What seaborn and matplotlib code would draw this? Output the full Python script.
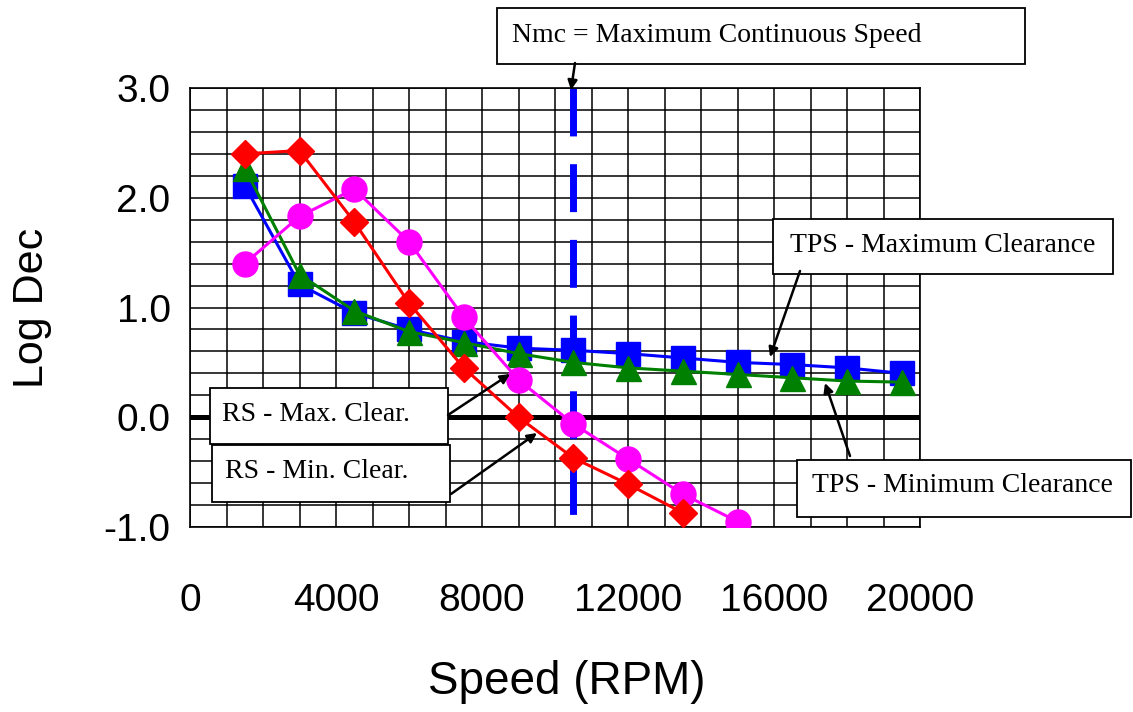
import matplotlib
matplotlib.use("Agg")
import matplotlib.pyplot as plt
from matplotlib.patches import Rectangle
from matplotlib.ticker import MultipleLocator, FormatStrFormatter
import seaborn as sns

# speeds (RPM) and log dec values
speed = [1500, 3000, 4500, 6000, 7500, 9000, 10500, 12000, 13500, 15000, 16500, 18000, 19500]
tps_max_clear = [2.11, 1.21, 0.95, 0.80, 0.69, 0.63, 0.61, 0.58, 0.54, 0.50, 0.48, 0.45, 0.40]
tps_min_clear = [2.27, 1.30, 0.97, 0.78, 0.68, 0.58, 0.50, 0.45, 0.42, 0.39, 0.36, 0.33, 0.32]
rs_max_speed = [1500, 3000, 4500, 6000, 7500, 9000, 10500, 12000, 13500, 15000]
rs_max_clear = [1.40, 1.83, 2.08, 1.60, 0.91, 0.34, -0.06, -0.38, -0.70, -0.95]
rs_min_speed = [1500, 3000, 4500, 6000, 7500, 9000, 10500, 12000, 13500]
rs_min_clear = [2.40, 2.43, 1.78, 1.04, 0.45, 0.00, -0.37, -0.61, -0.87]

nmc_speed = 10500
nmc_span = [3.0, -0.95]  # top to bottom so the dashes start at the top

x_ticks = [0, 4000, 8000, 12000, 16000, 20000]

sns.set_style("white")
plt.rcParams["font.family"] = ["Liberation Sans", "DejaVu Sans"]
plt.rcParams["axes.unicode_minus"] = False

W, H = 1133, 712
fig = plt.figure(figsize=(W / 100, H / 100), dpi=100)
ax = fig.add_axes([190 / W, 1 - 527 / H, 730 / W, (527 - 88) / H])


def fpx(x, y):
    # top-left pixel -> figure fraction
    return x / W, 1 - y / H


# Nmc marker line, under the series
ax.plot([nmc_speed, nmc_speed], nmc_span, color="#0000ff", lw=5,
        dashes=(6.9, 4.0), zorder=2)
ax.axhline(0, color="black", lw=3.6, zorder=2)

series = [
    (speed, tps_max_clear, "#0000ff", "s", 17),
    (speed, tps_min_clear, "#008000", "^", 18),
    (rs_max_speed, rs_max_clear, "#ff00ff", "o", 18),
    (rs_min_speed, rs_min_clear, "#ff0000", "D", 14),
]
for xs, ys, col, mk, ms in series:
    sns.lineplot(x=xs, y=ys, ax=ax, color=col, lw=2.2, marker=mk,
                 markersize=ms, markeredgecolor=col, markeredgewidth=1,
                 sort=False, estimator=None, zorder=3)

ax.set_xlim(0, 20000)
ax.set_ylim(-1, 3)
ax.set_xticks(x_ticks)
ax.xaxis.set_minor_locator(MultipleLocator(1000))
ax.yaxis.set_major_locator(MultipleLocator(1.0))
ax.yaxis.set_minor_locator(MultipleLocator(0.2))
ax.yaxis.set_major_formatter(FormatStrFormatter("%.1f"))
ax.grid(which="both", color="black", lw=1.1)
ax.set_axisbelow(True)
for s in ax.spines.values():
    s.set_color("black")
    s.set_linewidth(1.2)

ax.tick_params(which="major", direction="out", length=11, width=1.2,
               labelsize=28, colors="black")
ax.tick_params(which="minor", length=0)
ax.tick_params(axis="x", pad=29)
ax.tick_params(axis="y", pad=3)

ax.set_xlabel("Speed (RPM)", fontsize=33, color="black")
ax.set_ylabel("Log Dec", fontsize=31, color="black")
ax.xaxis.set_label_coords((567 - 190) / 730, (527 - 660) / 439)
ax.yaxis.set_label_coords((52 - 190) / 730, 0.50)

# annotation boxes: (x0, y0, x1, y1) px, text left x, text mid y, label
boxes = [
    (497, 8, 1025, 64, 512, 36, "Nmc = Maximum Continuous Speed"),
    (773, 219, 1113, 274, 790, 246, "TPS - Maximum Clearance"),
    (797, 460, 1131, 517, 812, 486, "TPS - Minimum Clearance"),
    (210, 388, 448, 444, 222, 415, "RS - Max. Clear."),
    (212, 445, 450, 502, 225, 471, "RS - Min. Clear."),
]
for x0, y0, x1, y1, tx, ty, label in boxes:
    fx0, fy1 = fpx(x0, y1)
    rect = Rectangle((fx0, fy1), (x1 - x0) / W, (y1 - y0) / H,
                     transform=fig.transFigure, facecolor="white",
                     edgecolor="black", lw=1.3, zorder=5)
    fig.add_artist(rect)
    fig.text(*fpx(tx, ty), label, fontsize=20, family="Liberation Serif",
             color="black", ha="left", va="center", zorder=6)

# arrows: tail px -> head px
arrows = [
    ((575, 63), (571, 90)),
    ((800, 271), (770, 357)),
    ((850, 456), (825, 383)),
    ((448, 415), (510, 374)),
    ((451, 494), (537, 433)),
]
for tail, head in arrows:
    fig.add_artist(plt.Annotation(
        "", xy=fpx(*head), xytext=fpx(*tail),
        xycoords="figure fraction", textcoords="figure fraction",
        arrowprops=dict(arrowstyle="-|>", color="black", lw=1.8,
                        mutation_scale=14, shrinkA=0, shrinkB=0),
        zorder=7))

fig.savefig("out.png", dpi=100)
